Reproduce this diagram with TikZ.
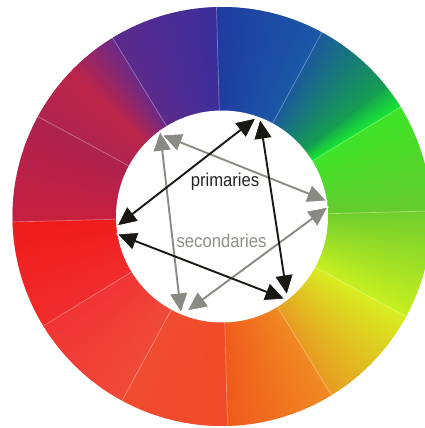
\documentclass[tikz,border=0pt]{standalone}
\usepackage{fontspec}
\setmainfont{Liberation Sans}
\newfontfamily\narrowfont[FakeStretch=0.9]{Liberation Sans}
\usetikzlibrary{calc}
\definecolor{pblack}{HTML}{1A1612}
\definecolor{sgray}{HTML}{8A8A84}
\definecolor{ptext}{HTML}{262422}
\definecolor{stext}{HTML}{8E8E88}
\tikzset{
  primshaft/.style={draw=pblack,line width=1.9pt,shorten <=16pt,shorten >=16pt},
  secshaft/.style={draw=sgray,line width=1.9pt,shorten <=16pt,shorten >=16pt},
  headedge/.style={draw=white,line width=1pt,line join=miter},
  divider/.style={draw=white,opacity=0.35,line width=0.7pt},
  label/.style={font=\narrowfont\fontsize{18.5}{20}\selectfont,inner sep=0pt,anchor=base}
}
% #1 tip, #2 other end of the connector, #3 colour
\newcommand\trihead[3]{%
  \fill[#3] (#1) -- ($(#1)!21.7pt!25.4:(#2)$) -- ($(#1)!21.7pt!-25.4:(#2)$) -- cycle;
  \draw[headedge] ($(#1)!21.7pt!25.4:(#2)$) -- (#1) -- ($(#1)!21.7pt!-25.4:(#2)$);
}
\begin{document}
\begin{tikzpicture}[x=1pt,y=1pt]
\useasboundingbox (0,0) rectangle (425,428);
\fill[white] (0,0) rectangle (425,428);
\clip (0,0) rectangle (425,428);
\coordinate (C) at (222,211.5);
% colour wheel
\foreach \a/\b/\ca/\cb in {
  1.5/31.5/66CC2E/3EE428,
  31.5/38/18E634/15A84C,
  38/61.5/15A04E/1B5A9C,
  61.5/91.5/1A58A6/1E3CA0,
  91.5/121.5/3C2E9C/5C2A8C,
  121.5/136/6C2A88/BC2448,
  136/151.5/BC2448/B02450,
  151.5/181.5/AC2250/C82040,
  181.5/211.5/F01C1C/F02C2C,
  211.5/241.5/F03434/F04A38,
  241.5/271.5/F04C30/F04A28,
  271.5/301.5/F05A1C/F08A22,
  301.5/331.5/E89C22/D8EE20,
  331.5/361.5/C8F020/70CE2C}{
  \definecolor{wa}{HTML}{\ca}
  \definecolor{wb}{HTML}{\cb}
  \pgfmathtruncatemacro\n{ceil((\b-\a)*2)}
  \foreach \i in {1,...,\n}{
    \pgfmathsetmacro\s{\a+(\i-1)*(\b-\a)/\n}
    \pgfmathsetmacro\e{\a+\i*(\b-\a)/\n+0.25}
    \pgfmathsetmacro\p{100*(\i-0.5)/\n}
    \fill[wb!\p!wa] (C) -- ++(\s:209.5pt) arc[start angle=\s,end angle=\e,radius=209.5pt] -- cycle;
  }
}
\foreach \t in {1.5,31.5,...,331.5}
  \draw[divider] (C) ++(\t:106pt) -- ++(\t:103.5pt);
\fill[white] (C) circle[radius=106pt];
% end points
\coordinate (a1) at (117,202); \coordinate (a2) at (256,310);
\coordinate (b1) at (260,309); \coordinate (b2) at (287,133);
\coordinate (c1) at (285,129); \coordinate (c2) at (117,194);
\coordinate (d1) at (160,297); \coordinate (d2) at (181,115);
\coordinate (e1) at (162,293); \coordinate (e2) at (327,227);
\coordinate (f1) at (328,221); \coordinate (f2) at (187,117);
% secondaries
\draw[secshaft] (d1) -- (d2);
\draw[secshaft] (e1) -- (e2);
\draw[secshaft] (f1) -- (f2);
% primaries
\draw[primshaft] (a1) -- (a2);
\draw[primshaft] (b1) -- (b2);
\draw[primshaft] (c1) -- (c2);
% arrow heads
\trihead{d1}{d2}{sgray} \trihead{e1}{e2}{sgray}
\trihead{e2}{e1}{sgray} \trihead{f1}{f2}{sgray}
\trihead{d2}{d1}{sgray} \trihead{f2}{f1}{sgray}
\trihead{a2}{a1}{pblack} \trihead{b1}{b2}{pblack}
\trihead{a1}{a2}{pblack} \trihead{c2}{c1}{pblack}
\trihead{c1}{c2}{pblack} \trihead{b2}{b1}{pblack}
% labels
\node[label,text=ptext] (prim) at (225,241) {primaries};
\node[label,text=stext] (sec) at (221.5,180) {secondaries};
\end{tikzpicture}
\end{document}
